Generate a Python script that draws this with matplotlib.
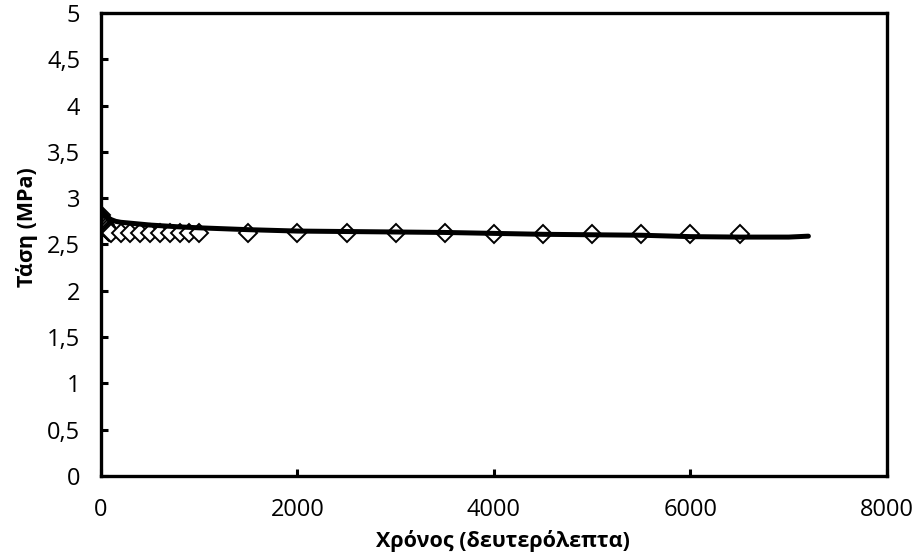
import matplotlib
matplotlib.use("Agg")
import matplotlib.pyplot as plt

plt.rcParams['font.family'] = ['Open Sans', 'DejaVu Sans']

# fitted curve (time s, stress MPa)
line_t = [0, 20, 50, 100, 150, 200, 300, 400, 500, 650, 800, 1000, 1250, 1500,
          2000, 2500, 3000, 3500, 4000, 4500, 5000, 5500, 6000, 6500, 7000, 7100, 7200]
line_s = [2.87, 2.84, 2.80, 2.77, 2.75, 2.74, 2.73, 2.72, 2.71, 2.70, 2.69, 2.68, 2.67, 2.66,
          2.645, 2.64, 2.635, 2.63, 2.62, 2.61, 2.605, 2.60, 2.585, 2.58, 2.58, 2.585, 2.59]

# measured points
pts_t = [0, 10, 20, 30, 40, 50, 60, 70, 80, 90,
         100, 200, 300, 400, 500, 600, 700, 800, 900, 1000,
         1500, 2000, 2500, 3000, 3500, 4000, 4500, 5000, 5500, 6000, 6500]
pts_s = [2.82, 2.79, 2.76, 2.73, 2.71, 2.69, 2.67, 2.65, 2.64, 2.63,
         2.62, 2.62, 2.62, 2.62, 2.62, 2.62, 2.62, 2.62, 2.62, 2.62,
         2.62, 2.62, 2.62, 2.62, 2.62, 2.61, 2.61, 2.61, 2.61, 2.61, 2.61]

fig = plt.figure(figsize=(9.23, 5.57), dpi=100)
ax = fig.add_axes([0.1094, 0.1454, 0.8516, 0.8313])

ax.plot(pts_t, pts_s, linestyle='none', marker='D', ms=9, mfc='white',
        mec='black', mew=1.4, zorder=2)
ax.plot(line_t, line_s, color='black', lw=3.6, solid_capstyle='round', zorder=3)

ax.set_xlim(0, 8000)
ax.set_ylim(0, 5)
ax.set_xticks([0, 2000, 4000, 6000, 8000])
ax.set_yticks([0, 0.5, 1, 1.5, 2, 2.5, 3, 3.5, 4, 4.5, 5])
ax.set_yticklabels(['0', '0,5', '1', '1,5', '2', '2,5', '3', '3,5', '4', '4,5', '5'])

for s in ax.spines.values():
    s.set_linewidth(2.4)
ax.tick_params(direction='in', length=5, width=2.2, labelsize=17, pad=15.5)
ax.tick_params(axis='y', pad=15)

ax.set_xlabel('Χρόνος (δευτερόλεπτα)', fontsize=15.5, fontweight='bold')
ax.set_ylabel('Τάση (MPa)', fontsize=15.5, fontweight='bold')
ax.xaxis.set_label_coords(0.511, -0.117)
ax.yaxis.set_label_coords(-0.08, 0.538)

fig.savefig('out.png', dpi=100)
